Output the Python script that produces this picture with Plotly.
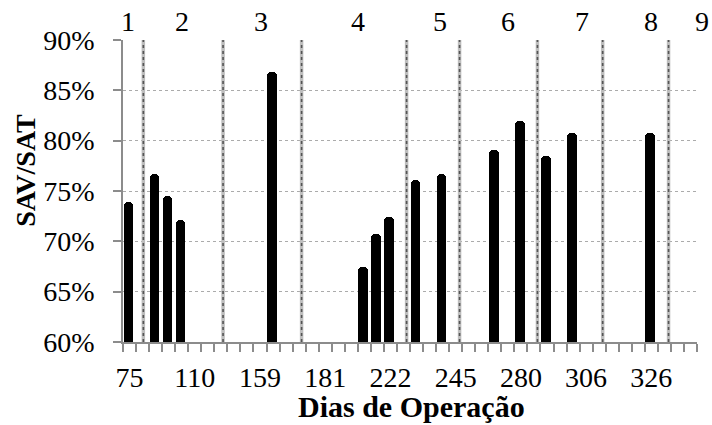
import plotly.graph_objects as go

# ---- data ----
bar_index = [0, 2, 3, 4, 11, 18, 19, 20, 22, 24, 28, 30, 32, 34, 40]
bar_values = [0.739, 0.767, 0.745, 0.721, 0.868, 0.675, 0.707, 0.724,
              0.761, 0.767, 0.791, 0.820, 0.785, 0.808, 0.808]
tick_index = [0, 5, 10, 15, 20, 25, 30, 35, 40]
tick_labels = ["75", "110", "159", "181", "222", "245", "280", "306", "326"]
n_categories = 44
phase_boundaries = [1.06, 7.17, 13.19, 21.24, 25.30, 31.27, 36.27, 41.32]
phase_labels = ["1", "2", "3", "4", "5", "6", "7", "8", "9"]
phase_label_pos = [-0.09, 4.01, 10.1, 17.5, 23.8, 29.0, 34.7, 40.0, 43.9]

FONT = "Liberation Serif, Times New Roman, serif"
AXIS_GREY = "#8c8c8c"
X_MIN, X_MAX = -0.5, n_categories - 0.5

fig = go.Figure()
fig.add_trace(go.Bar(
    x=bar_index, y=bar_values,
    width=0.75, offset=-0.46,
    marker=dict(color="black", cornerradius=4, line=dict(width=0)),
    showlegend=False,
))

shapes = []
for b in phase_boundaries:
    shapes.append(dict(type="line", xref="x", yref="paper", x0=b, x1=b, y0=0, y1=1,
                       line=dict(color="#bdbdbd", width=3.5), layer="above"))
    shapes.append(dict(type="line", xref="x", yref="paper", x0=b, x1=b, y0=0, y1=1,
                       line=dict(color="#555555", width=1.6, dash="dot"), layer="above"))

annotations = []
for lbl, pos in zip(phase_labels, phase_label_pos):
    annotations.append(dict(text=lbl, x=(pos - X_MIN) / (X_MAX - X_MIN), xref="paper",
                            y=1.06, yref="paper",
                            xanchor="center", yanchor="middle", showarrow=False,
                            font=dict(family=FONT, size=28, color="black")))
annotations.append(dict(text="<b>Dias de Operação</b>", x=0.503, xref="paper",
                        y=-0.214, yref="paper", xanchor="center", yanchor="middle",
                        showarrow=False, font=dict(family=FONT, size=30, color="black")))
annotations.append(dict(text="<b>SAV/SAT</b>", x=-0.169, xref="paper",
                        y=0.57, yref="paper", xanchor="center", yanchor="middle",
                        textangle=-90, showarrow=False,
                        font=dict(family=FONT, size=28, color="black")))

fig.update_layout(
    width=712, height=425,
    margin=dict(l=123, r=15, t=40, b=83, autoexpand=False),
    paper_bgcolor="white", plot_bgcolor="white",
    font=dict(family=FONT, size=28, color="black"),
    shapes=shapes, annotations=annotations,
    bargap=0,
    xaxis=dict(
        range=[X_MIN, X_MAX], automargin=False,
        tickmode="array", tickvals=tick_index, ticktext=tick_labels,
        ticks="", showgrid=False, zeroline=False,
        showline=True, linecolor=AXIS_GREY, linewidth=1.5,
        ticklabelstandoff=10,
        minor=dict(tickmode="linear", tick0=-0.5, dtick=1, ticks="outside",
                   ticklen=8, tickwidth=1.5, tickcolor=AXIS_GREY, showgrid=False),
        tickfont=dict(family=FONT, size=28, color="black"),
    ),
    yaxis=dict(
        range=[0.6, 0.9], automargin=False, tickmode="linear", tick0=0.6, dtick=0.05,
        tickformat=".0%", ticks="outside", ticklen=8, tickwidth=1.5,
        tickcolor=AXIS_GREY, showline=True, linecolor=AXIS_GREY, linewidth=1.5,
        showgrid=True, gridcolor="#ababab", gridwidth=1.3, griddash="dot",
        zeroline=False, ticklabelstandoff=13,
        tickfont=dict(family=FONT, size=28, color="black"),
    ),
)

fig.write_html(
    "out.html",
    config={"displayModeBar": False},
    post_script="document.body.style.margin='0';document.documentElement.style.overflow='hidden';",
)
